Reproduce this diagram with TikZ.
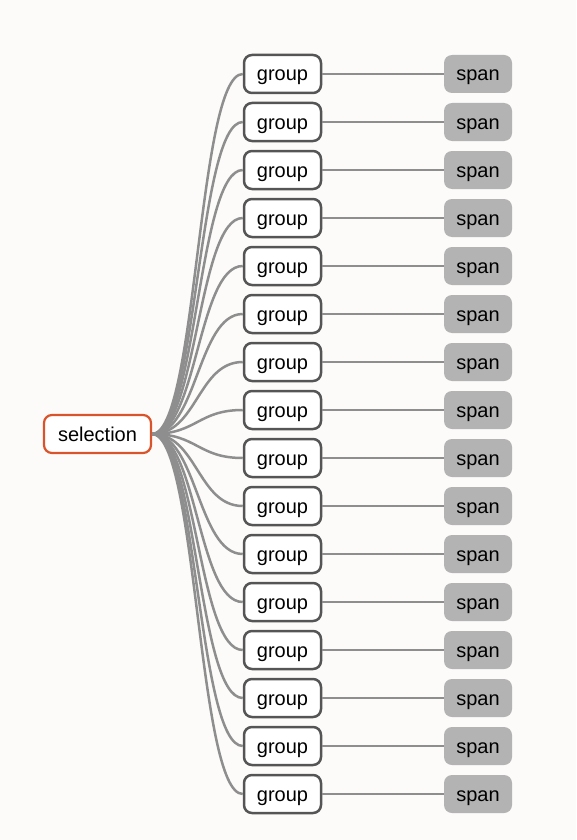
\documentclass[tikz,border=0pt]{standalone}
\usepackage{fontspec}
\setmainfont{Liberation Sans}
\definecolor{bg}{HTML}{FCFBFA}
\definecolor{selorange}{HTML}{D9542A}
\definecolor{grpborder}{HTML}{555555}
\definecolor{spanfill}{HTML}{B3B3B3}
\definecolor{linkgray}{HTML}{8E8E8E}
\begin{document}
\begin{tikzpicture}[x=1pt,y=-1pt,font=\fontsize{20}{24}\selectfont]
            % Background
            \fill[bg] (0,0) rectangle (576,840);
            \useasboundingbox (0,0) rectangle (576,840);
            % Root
            \node[draw=selorange,line width=2.2pt,fill=white,rounded corners=8pt,minimum width=107pt,minimum height=38pt,inner sep=0pt,text height=14pt,text depth=0pt] (sel) at (97.5,434) {selection};
            % Groups and spans
            \foreach \i in {1,...,16} {
                \node[draw=grpborder,line width=2.5pt,fill=white,rounded corners=8pt,minimum width=77pt,minimum height=38pt,inner sep=0pt,text height=14pt,text depth=0pt] (G\i) at (282.5,26+48*\i) {group};
                \node[fill=spanfill,rounded corners=8pt,minimum width=68pt,minimum height=38pt,inner sep=0pt,text height=14pt,text depth=0pt] (S\i) at (478,26+48*\i) {span};
            }
            % Links
            \foreach \i in {1,...,16} {
                \draw[linkgray,line width=2.5pt] (sel.east) .. controls +(45,0) and +(-45,0) .. (G\i.west);
                \draw[linkgray,line width=2.5pt] (G\i.east) -- (S\i.west);
            }
        \end{tikzpicture}
\end{document}
